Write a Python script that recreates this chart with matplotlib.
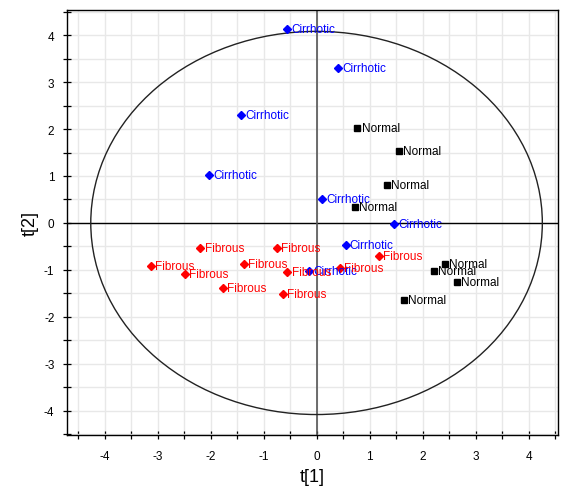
import matplotlib
matplotlib.use("Agg")
import matplotlib.pyplot as plt
from matplotlib.patches import Ellipse
from matplotlib.ticker import MultipleLocator

plt.rcParams['font.family'] = ['Liberation Sans', 'DejaVu Sans']
plt.rcParams['axes.unicode_minus'] = False

# score values
cirr_t1 = [-0.55, 0.40, -1.43, -2.03, 0.11, 1.47, 0.55, -0.14]
cirr_t2 = [4.12, 3.30, 2.29, 1.03, 0.50, -0.02, -0.47, -1.03]

norm_t1 = [0.77, 1.56, 1.33, 0.72, 2.42, 2.22, 2.65, 1.65]
norm_t2 = [2.02, 1.53, 0.80, 0.35, -0.87, -1.03, -1.26, -1.65]

fib_t1 = [-2.19, -0.74, -3.13, -2.48, -1.37, -0.55, -1.76, -0.63, 0.44, 1.18]
fib_t2 = [-0.54, -0.54, -0.91, -1.09, -0.87, -1.04, -1.39, -1.51, -0.96, -0.71]

# Hotelling T2 ellipse semi-axes
ell_a = 4.26
ell_b = 4.08

fig = plt.figure(figsize=(5.72, 4.89), dpi=100)
ax = fig.add_axes([0.117, 0.108, 0.858, 0.869])

ax.set_xlim(-4.71, 4.55)
ax.set_ylim(-4.52, 4.53)

ax.xaxis.set_major_locator(MultipleLocator(1))
ax.xaxis.set_minor_locator(MultipleLocator(0.5))
ax.yaxis.set_major_locator(MultipleLocator(1))
ax.yaxis.set_minor_locator(MultipleLocator(0.5))
ax.grid(True, which='both', color='#e8e8e8', linewidth=1.0, zorder=0)
ax.set_axisbelow(True)

ax.tick_params(which='both', direction='inout', length=6, width=0.9,
               labelsize=8.5, top=False, right=False)
ax.tick_params(axis='x', pad=8)
ax.tick_params(axis='y', pad=6)
for s in ax.spines.values():
    s.set_linewidth(1.0)
    s.set_color('black')

ax.axhline(0, color='black', linewidth=1.0, zorder=1)
ax.axvline(0, color='#555555', linewidth=1.2, zorder=1)

ax.add_patch(Ellipse((0, 0), 2 * ell_a, 2 * ell_b, fill=False,
                     edgecolor='#222222', linewidth=1.0, zorder=2))

groups = [
    (cirr_t1, cirr_t2, 'Cirrhotic', 'blue', 'D', 4.2),
    (norm_t1, norm_t2, 'Normal', 'black', 's', 4.0),
    (fib_t1, fib_t2, 'Fibrous', 'red', 'D', 4.2),
]
for xs, ys, name, col, mk, ms in groups:
    ax.plot(xs, ys, linestyle='none', marker=mk, markersize=ms,
            color=col, zorder=3)
    for x, y in zip(xs, ys):
        ax.annotate(name, (x, y), xytext=(3, 0), textcoords='offset points',
                    va='center', ha='left', fontsize=8.5, color=col, zorder=4)

ax.set_xlabel('t[1]', fontsize=13, labelpad=4)
ax.set_ylabel('t[2]', fontsize=13, labelpad=4)

fig.savefig('out.png', dpi=100)
